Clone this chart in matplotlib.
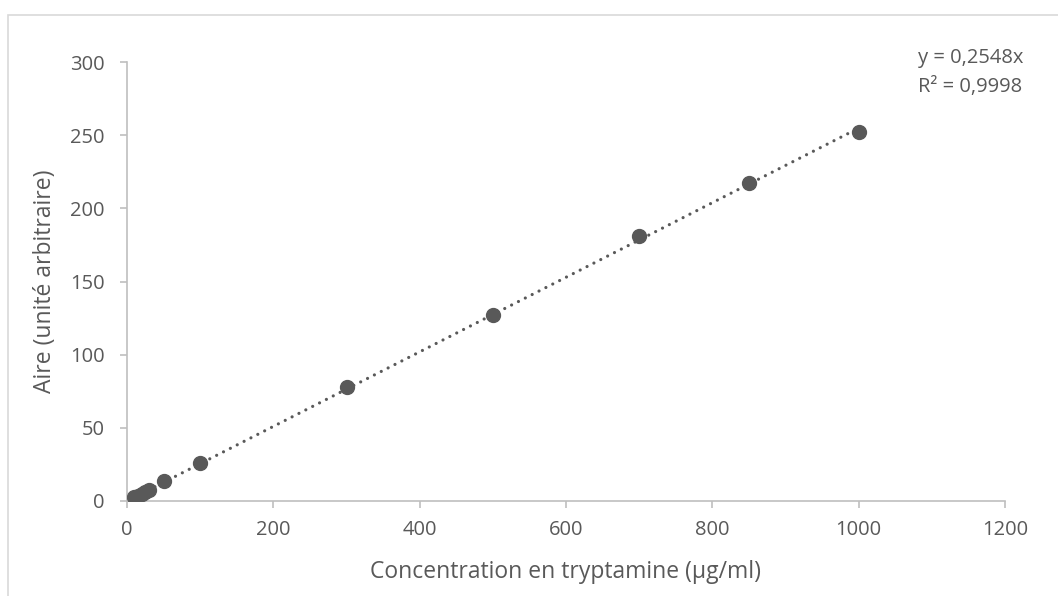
import numpy as np
import matplotlib.pyplot as plt
from matplotlib.patches import Rectangle

conc = [10, 15, 20, 25, 30, 50, 100, 300, 500, 700, 850, 1000]
aire = [2.4, 3.6, 5.0, 6.3, 7.4, 13.6, 26.3, 77.8, 126.8, 181.3, 217.0, 252.5]
pente = 0.2548
r2 = 0.9998

grey = '#595959'
axis_grey = '#bfbfbf'
plt.rcParams['font.family'] = ['Open Sans', 'DejaVu Sans']

W, H = 1058, 596
fig = plt.figure(figsize=(W/100, H/100), dpi=100)
# cadre du graphique (coupe a droite et en bas)
fig.patches.append(Rectangle((8/W, -0.05), 1.1, 0.05 + 1 - 15/H, transform=fig.transFigure,
                             fill=False, edgecolor='#d9d9d9', linewidth=1.2))
ax = fig.add_axes([127/W, 95/H, 878/W, 439/H])

xfit = np.array([min(conc), max(conc)])
ax.plot(xfit, pente*xfit, linestyle=(0, (0.01, 2.4)), dash_capstyle='round',
        color=grey, linewidth=2.3, zorder=2)
ax.plot(conc, aire, 'o', color=grey, markersize=10, zorder=3)

ax.set_xlim(0, 1200)
ax.set_ylim(0, 300)
ax.set_xticks(range(0, 1201, 200))
ax.set_yticks(range(0, 301, 50))
for s in ['top', 'right']:
    ax.spines[s].set_visible(False)
for s in ['left', 'bottom']:
    ax.spines[s].set_color(axis_grey)
    ax.spines[s].set_linewidth(1.2)
ax.tick_params(colors=axis_grey, labelcolor=grey, labelsize=14.5, length=5, width=1.2)
ax.tick_params(axis='y', pad=11)
ax.tick_params(axis='x', pad=9)

fig.text(566/W, 1 - 572/H, 'Concentration en tryptamine (µg/ml)', fontsize=16.5,
         color=grey, ha='center', va='center')
fig.text(45/W, 1 - 281/H, 'Aire (unité arbitraire)', fontsize=16.5, rotation=90,
         color=grey, ha='center', va='center')

fig.text(918/W, 1 - 58/H, 'y = %sx' % str(pente).replace('.', ','), fontsize=14.5,
         color=grey, va='center')
fig.text(918/W, 1 - 87/H, 'R² = %s' % str(r2).replace('.', ','), fontsize=14.5,
         color=grey, va='center')

fig.savefig('out.png', dpi=100)
